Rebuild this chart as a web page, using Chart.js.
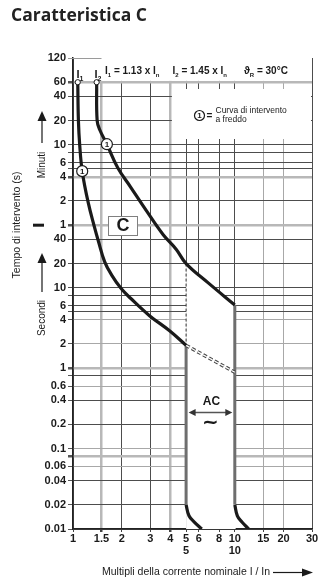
<!DOCTYPE html>
<html>
<head>
<meta charset="utf-8">
<title>Caratteristica C</title>
<script src="https://cdn.jsdelivr.net/npm/chart.js@4.4.1/dist/chart.umd.min.js"></script>
<style>
  html, body { margin: 0; padding: 0; background: #fff; }
  #chart { display: block; }
</style>
</head>
<body>
<canvas id="chart" width="334" height="586"></canvas>
<script>
(function () {
    'use strict';

    // Axis values (x = multiples of In, y = seconds).
    var xGridValues = [1, 1.5, 2, 3, 4, 5, 6, 8, 10, 15, 20, 30];
    var xTickLabels = ['1', '1.5', '2', '3', '4', '5', '6', '8', '10', '15', '20', '30'];
    var xMarkedValues = [5, 10];

    var yGridValues = [7200, 3600, 2400, 1200, 600, 480, 360, 300, 240, 120, 60,
        40, 20, 10, 8, 6, 5, 4, 2, 1, 0.8, 0.6, 0.4, 0.2, 0.1, 0.08, 0.06, 0.04, 0.02, 0.01];
    var yTickValues = [7200, 3600, 2400, 1200, 600, 360, 240, 120, 60,
        40, 20, 10, 6, 4, 2, 1, 0.6, 0.4, 0.2, 0.1, 0.06, 0.04, 0.02, 0.01];
    var yTickLabels = ['120', '60', '40', '20', '10', '6', '4', '2', '1',
        '40', '20', '10', '6', '4', '2', '1', '0.6', '0.4', '0.2', '0.1', '0.06', '0.04', '0.02', '0.01'];

    // Tripping curves.
    var curveI1X = [1.07, 1.08, 1.10, 1.14, 1.24, 1.36, 1.43, 1.57, 1.73, 1.99, 2.27, 2.97, 3.97, 5];
    var curveI1Y = [3600, 1200, 600, 282, 116, 56, 39, 21, 14.5, 9.7, 7.4, 4.5, 2.9, 1.92];

    var curveI2X = [1.40, 1.41, 1.465, 1.62, 1.89, 2.27, 2.84, 3.6, 4.35, 5, 6.85, 10];
    var curveI2Y = [3600, 1200, 916, 610, 311, 179, 91, 46, 30, 20, 11.5, 6.1];

    var lowLimitX = [5, 5];
    var lowLimitY = [1.92, 0.02];
    var highLimitX = [10, 10];
    var highLimitY = [6.1, 0.02];

    var lowTailX = [5, 5.21, 5.62, 6.25];
    var highTailX = [10, 10.37, 11.07, 12.2];
    var tailY = [0.02, 0.0146, 0.0122, 0.01];

    var dashLineX = [5, 5];
    var dashLineY = [20, 1.92];
    var bridgeX = [5, 10];
    var bridgeY = [1.92, 0.89];

    // Grid line styling.
    var yThickLines = [3600, 240, 60, 1, 0.08];
    var yLightLines = [4, 2, 0.6, 0.1, 0.06];
    var xThickLines = [1.5, 4];
    var xLightLines = [15, 20];

    var SANS = "'Liberation Sans', Arial, sans-serif";
    var INK = '#1a1a1a';

    function toPoints(xs, ys) {
        return xs.map(function (v, i) {
            return { x: v, y: ys[i] };
        });
    }

    function gridColor(value, thick, light) {
        if (value === 7200) return 'rgba(0,0,0,0)';
        if (thick.indexOf(value) !== -1) return '#b8b8b8';
        if (light.indexOf(value) !== -1) return '#a8a8a8';
        return '#4d4d4d';
    }

    function gridWidth(value, thick) {
        return thick.indexOf(value) !== -1 ? 2.5 : 1;
    }

    /**
     * Text with subscripts: parts = [[text, sub], ...]
     */
    function drawSubText(ctx, x, y, parts, size) {
        parts.forEach(function (p) {
            ctx.font = 'bold ' + size + 'px ' + SANS;
            ctx.fillText(p[0], x, y);
            x += ctx.measureText(p[0]).width;
            if (p[1]) {
                ctx.font = 'bold ' + Math.round(size * 0.62) + 'px ' + SANS;
                ctx.fillText(p[1], x, y + 2.5);
                x += ctx.measureText(p[1]).width;
            }
        });
    }

    function arrowHead(ctx, tipX, tipY, dx, dy, len, half) {
        var bx = tipX - dx * len;
        var by = tipY - dy * len;
        ctx.beginPath();
        ctx.moveTo(tipX, tipY);
        ctx.lineTo(bx - dy * half, by + dx * half);
        ctx.lineTo(bx + dy * half, by - dx * half);
        ctx.closePath();
        ctx.fill();
    }

    function circleOne(ctx, x, y, r, size) {
        ctx.beginPath();
        ctx.arc(x, y, r, 0, Math.PI * 2);
        ctx.fillStyle = '#fff';
        ctx.fill();
        ctx.lineWidth = 1.2;
        ctx.strokeStyle = INK;
        ctx.stroke();
        ctx.fillStyle = INK;
        ctx.font = 'bold ' + size + 'px ' + SANS;
        ctx.textAlign = 'center';
        ctx.textBaseline = 'middle';
        ctx.fillText('1', x, y + 0.5);
    }

    function vText(ctx, text, x, y, font) {
        ctx.save();
        ctx.translate(x, y);
        ctx.rotate(-Math.PI / 2);
        ctx.font = font;
        ctx.textAlign = 'center';
        ctx.textBaseline = 'middle';
        ctx.fillText(text, 0, 0);
        ctx.restore();
    }

    var decorations = {
        id: 'decorations',
        beforeDatasetsDraw: function (chart) {
            var ctx = chart.ctx;
            var a = chart.chartArea;
            var xs = chart.scales.x;
            var ys = chart.scales.y;
            var y60 = ys.getPixelForValue(3600);
            var x4 = xs.getPixelForValue(4);
            var x5 = xs.getPixelForValue(5);
            var x10 = xs.getPixelForValue(10);

            ctx.save();
            ctx.fillStyle = '#fff';
            // header strip above the 60 min line
            ctx.fillRect(a.left + 1, a.top - 3, a.right - a.left - 2, y60 - 1.3 - (a.top - 3));
            // legend box
            ctx.fillRect(x4 + 1.5, 89, a.right - 1 - (x4 + 1.5), 50);

            // white area under the I2 curve between the 5 In and 10 In limits
            var line = chart.getDatasetMeta(1).dataset;
            var pts = chart.getDatasetMeta(1).data;
            ctx.save();
            ctx.beginPath();
            ctx.rect(x5, a.top, x10 - x5 + 1, a.bottom - a.top);
            ctx.clip();
            ctx.beginPath();
            line.path(ctx);
            ctx.lineTo(x10 + 1, pts[pts.length - 1].y);
            ctx.lineTo(x10 + 1, a.bottom);
            ctx.lineTo(pts[0].x, a.bottom);
            ctx.closePath();
            ctx.fill();
            ctx.restore();

            // short 120 min line
            ctx.strokeStyle = '#9a9a9a';
            ctx.lineWidth = 1;
            ctx.beginPath();
            ctx.moveTo(a.left - 5, Math.round(a.top) + 0.5);
            ctx.lineTo(xs.getPixelForValue(1.5), Math.round(a.top) + 0.5);
            ctx.stroke();
            ctx.restore();
        },
        afterDatasetsDraw: function (chart) {
            var ctx = chart.ctx;
            var xs = chart.scales.x;
            var ys = chart.scales.y;
            ctx.save();
            ctx.fillStyle = INK;
            ctx.textAlign = 'left';
            ctx.textBaseline = 'alphabetic';

            // title
            ctx.font = "700 17.5px 'Open Sans', sans-serif";
            ctx.fillStyle = '#222';
            ctx.fillText('Caratteristica C', 11, 21);
            ctx.fillStyle = INK;

            // header line
            drawSubText(ctx, 105, 74, [['I', '1'], [' = 1.13 x I', 'n']], 10);
            drawSubText(ctx, 172.5, 74, [['I', '2'], [' = 1.45 x I', 'n']], 10);
            drawSubText(ctx, 244, 74, [['\u03D1', 'R'], [' = 30\u00B0C', '']], 10);

            // I1 / I2 over curve starts
            drawSubText(ctx, 76.5, 78, [['I', '1']], 11);
            drawSubText(ctx, 94.5, 78, [['I', '2']], 11);

            // circled 1 on curves
            var m1 = chart.getDatasetMeta(0).data[3];
            var m2 = chart.getDatasetMeta(1).data[3];
            circleOne(ctx, m1.x, m1.y, 5.5, 8);
            circleOne(ctx, m2.x, m2.y, 5.5, 8);

            // legend box content
            circleOne(ctx, 199.5, 115.5, 5, 8);
            ctx.textAlign = 'left';
            ctx.textBaseline = 'alphabetic';
            ctx.font = 'bold 10px ' + SANS;
            ctx.fillText('=', 206.5, 119);
            ctx.font = '8.5px ' + SANS;
            ctx.fillText('Curva di intervento', 215.5, 113);
            ctx.fillText('a freddo', 215.5, 121.5);

            // C box
            ctx.fillStyle = '#fff';
            ctx.fillRect(108.5, 216.5, 29, 19);
            ctx.strokeStyle = '#808080';
            ctx.lineWidth = 1;
            ctx.strokeRect(108.5, 216.5, 29, 19);
            ctx.fillStyle = INK;
            ctx.font = 'bold 18px ' + SANS;
            ctx.textAlign = 'center';
            ctx.textBaseline = 'middle';
            ctx.fillText('C', 123, 226.5);

            // AC arrow
            var x5 = xs.getPixelForValue(5);
            var x10 = xs.getPixelForValue(10);
            ctx.font = 'bold 12px ' + SANS;
            ctx.fillText('AC', (x5 + x10) / 2 + 1, 402);
            ctx.strokeStyle = '#555';
            ctx.lineWidth = 1.5;
            ctx.beginPath();
            ctx.moveTo(x5 + 6, 412.5);
            ctx.lineTo(x10 - 6, 412.5);
            ctx.stroke();
            ctx.fillStyle = '#333';
            arrowHead(ctx, x5 + 2.5, 412.5, -1, 0, 7, 3.5);
            arrowHead(ctx, x10 - 2.5, 412.5, 1, 0, 7, 3.5);
            ctx.fillStyle = INK;
            ctx.font = "bold 20px 'DejaVu Sans', sans-serif";
            ctx.fillText('~', (x5 + x10) / 2, 423);

            // y axis titles
            vText(ctx, 'Tempo di intervento (s)', 17, 225, '10.5px ' + SANS);
            vText(ctx, 'Minuti', 42, 165, '10px ' + SANS);
            vText(ctx, 'Secondi', 42, 318, '10px ' + SANS);
            ctx.strokeStyle = INK;
            ctx.lineWidth = 1.2;
            ctx.beginPath();
            ctx.moveTo(42, 143);
            ctx.lineTo(42, 118);
            ctx.moveTo(42, 292);
            ctx.lineTo(42, 260);
            ctx.stroke();
            arrowHead(ctx, 42, 111, 0, -1, 10, 4.5);
            arrowHead(ctx, 42, 253, 0, -1, 10, 4.5);
            ctx.fillRect(33, ys.getPixelForValue(60) - 1.5, 11, 3);

            // x axis title
            ctx.textAlign = 'left';
            ctx.textBaseline = 'middle';
            ctx.font = '10.5px ' + SANS;
            ctx.fillText('Multipli della corrente nominale I / In', 102, 572);
            ctx.beginPath();
            ctx.moveTo(273, 572.5);
            ctx.lineTo(304, 572.5);
            ctx.stroke();
            arrowHead(ctx, 313, 572.5, 1, 0, 11, 4);

            ctx.restore();
        }
    };

    function lineSet(xs, ys, color, width, order, extra) {
        var ds = {
            data: toPoints(xs, ys),
            showLine: true,
            borderColor: color,
            borderWidth: width,
            pointRadius: 0,
            fill: false,
            tension: 0,
            order: order
        };
        Object.keys(extra || {}).forEach(function (k) { ds[k] = extra[k]; });
        return ds;
    }

    var startPoint = {
        pointRadius: function (c) { return c.dataIndex === 0 ? 2.6 : 0; },
        pointBackgroundColor: '#fff',
        pointBorderColor: INK,
        pointBorderWidth: 1,
        tension: 0.4
    };

    var datasets = [
        lineSet(curveI1X, curveI1Y, INK, 3.2, 1, startPoint),
        lineSet(curveI2X, curveI2Y, INK, 3.2, 1, startPoint),
        lineSet(lowLimitX, lowLimitY, '#6e6e6e', 3, 5),
        lineSet(highLimitX, highLimitY, '#6e6e6e', 3, 5),
        lineSet(lowTailX, tailY, INK, 3.2, 4, { tension: 0.4 }),
        lineSet(highTailX, tailY, INK, 3.2, 4, { tension: 0.4 }),
        lineSet(dashLineX, dashLineY, '#333', 1, 6, { borderDash: [3, 2] }),
        lineSet(bridgeX, bridgeY, '#444', 3.4, 3, { borderDash: [4, 2.5] }),
        lineSet(bridgeX, bridgeY, '#fff', 1.3, 2, { borderDash: [4, 2.5] })
    ];

    var TICK_FONT = { family: SANS, size: 11, weight: 'bold', lineHeight: 1.1 };

    new Chart(document.getElementById('chart').getContext('2d'), {
        type: 'scatter',
        data: { datasets: datasets },
        options: {
            responsive: false,
            animation: false,
            events: [],
            layout: { padding: { top: 58, right: 22, left: 0, bottom: 0 } },
            plugins: {
                legend: { display: false },
                tooltip: { enabled: false },
                title: { display: false }
            },
            scales: {
                x: {
                    type: 'logarithmic',
                    min: 1,
                    max: 30,
                    afterBuildTicks: function (scale) {
                        scale.ticks = xGridValues.map(function (v) { return { value: v }; });
                    },
                    afterFit: function (scale) { scale.height = 57; },
                    ticks: {
                        autoSkip: false,
                        maxRotation: 0,
                        padding: 1,
                        color: INK,
                        font: TICK_FONT,
                        callback: function (value) {
                            var i = xGridValues.indexOf(value);
                            var label = i === -1 ? '' : xTickLabels[i];
                            return xMarkedValues.indexOf(value) !== -1 ? [label, label] : label;
                        }
                    },
                    grid: {
                        color: function (c) { return gridColor(c.tick && c.tick.value, xThickLines, xLightLines); },
                        lineWidth: function (c) { return gridWidth(c.tick && c.tick.value, xThickLines); },
                        tickColor: '#444',
                        tickLength: 3
                    },
                    border: { color: '#222', width: 1.5 }
                },
                y: {
                    type: 'logarithmic',
                    min: 0.01,
                    max: 7200,
                    afterBuildTicks: function (scale) {
                        scale.ticks = yGridValues.map(function (v) { return { value: v }; });
                    },
                    afterFit: function (scale) { scale.width = 73; },
                    ticks: {
                        autoSkip: false,
                        padding: 2,
                        color: INK,
                        font: TICK_FONT,
                        callback: function (value) {
                            var i = yTickValues.indexOf(value);
                            return i === -1 ? '' : yTickLabels[i];
                        }
                    },
                    grid: {
                        color: function (c) { return gridColor(c.tick && c.tick.value, yThickLines, yLightLines); },
                        lineWidth: function (c) { return gridWidth(c.tick && c.tick.value, yThickLines); },
                        tickColor: '#555',
                        tickLength: 5
                    },
                    border: { color: '#222', width: 1.5 }
                }
            }
        },
        plugins: [decorations]
    });
})();
</script>
</body>
</html>
